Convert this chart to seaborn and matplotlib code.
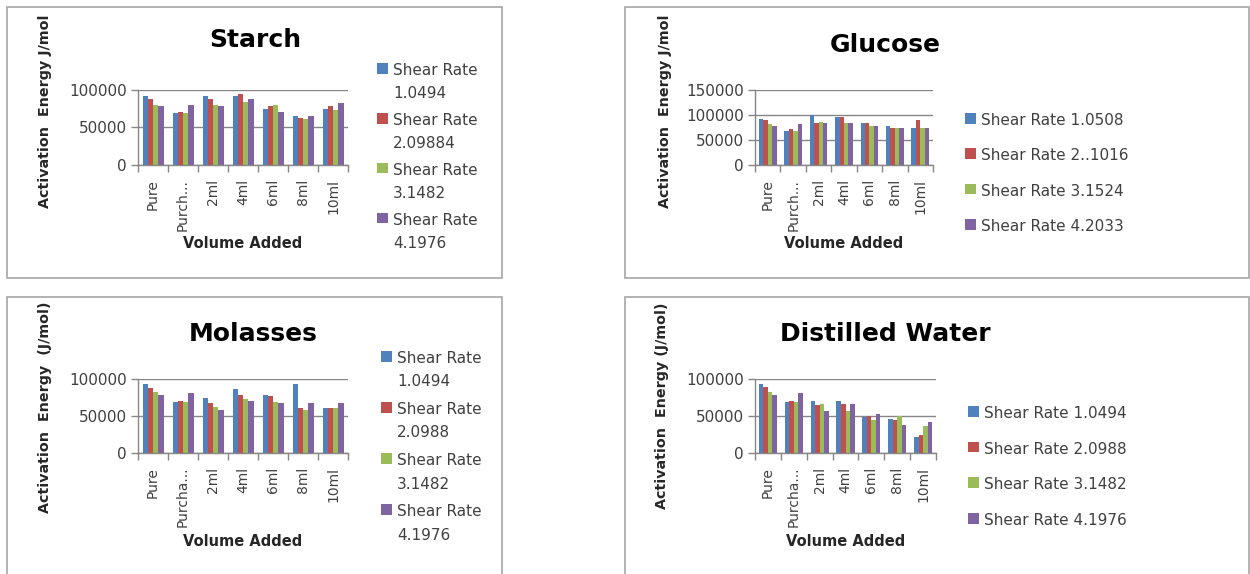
import numpy as np
import pandas as pd
import matplotlib
matplotlib.use("Agg")
import matplotlib.pyplot as plt
from matplotlib.patches import Rectangle
import seaborn as sns

# ---- data -------------------------------------------------------------
cats_short = ["Pure", "Purch...", "2ml", "4ml", "6ml", "8ml", "10ml"]
cats_long = ["Pure", "Purcha...", "2ml", "4ml", "6ml", "8ml", "10ml"]

starch_labels = ["Shear Rate\n1.0494", "Shear Rate\n2.09884",
                 "Shear Rate\n3.1482", "Shear Rate\n4.1976"]
starch_sr1 = [92500, 69200, 92500, 92500, 74400, 65200, 74400]
starch_sr2 = [88100, 70900, 88100, 94300, 78900, 62600, 78900]
starch_sr3 = [80600, 69200, 80600, 84600, 80600, 60800, 72700]
starch_sr4 = [78900, 80600, 78900, 88100, 70500, 65200, 82400]

glucose_labels = ["Shear Rate 1.0508", "Shear Rate 2..1016",
                  "Shear Rate 3.1524", "Shear Rate 4.2033"]
glucose_sr1 = [92700, 68700, 100000, 95400, 83400, 77400, 74700]
glucose_sr2 = [89400, 72000, 83400, 95400, 83400, 74700, 89400]
glucose_sr3 = [81400, 68700, 86700, 83400, 77400, 74700, 74700]
glucose_sr4 = [77400, 81400, 83400, 83400, 77400, 74700, 74700]

molasses_labels = ["Shear Rate\n1.0494", "Shear Rate\n2.0988",
                   "Shear Rate\n3.1482", "Shear Rate\n4.1976"]
molasses_sr1 = [92800, 68300, 74700, 86400, 78700, 92800, 60200]
molasses_sr2 = [88200, 70600, 67000, 78700, 76500, 60200, 60200]
molasses_sr3 = [82400, 68300, 62400, 72400, 68300, 58400, 60200]
molasses_sr4 = [78700, 80500, 58400, 70600, 67000, 67000, 67000]

water_labels = ["Shear Rate 1.0494", "Shear Rate 2.0988",
                "Shear Rate 3.1482", "Shear Rate 4.1976"]
water_sr1 = [92800, 68300, 70600, 70600, 48900, 46200, 22200]
water_sr2 = [88700, 70600, 64300, 66500, 50200, 44300, 24400]
water_sr3 = [82400, 68300, 66500, 56100, 44300, 50200, 36200]
water_sr4 = [78700, 80500, 56100, 66500, 52500, 38500, 42500]

# ---- style ------------------------------------------------------------
sns.set_theme(style="white")
plt.rcParams["font.family"] = ["DejaVu Sans"]

palette = ["#4F81BD", "#C0504D", "#9BBB59", "#8064A2"]
GRID = "#868686"
TXT = "#404040"

W, H = 1250, 574
fig = plt.figure(figsize=(W / 100, H / 100), dpi=100)


def axes_px(x0, y0, x1, y1):
    return fig.add_axes([x0 / W, 1 - y1 / H, (x1 - x0) / W, (y1 - y0) / H])


def frame_px(x0, y0, x1, y1):
    fig.add_artist(Rectangle((x0 / W, 1 - y1 / H), (x1 - x0) / W, (y1 - y0) / H,
                             transform=fig.transFigure, fill=False,
                             edgecolor="#A6A6A6", lw=1.2))


def panel(ax, cats, labels, series, title, title_xy, ylabel, ylabel_xy,
          xlabel_y, ymax, yticks, leg_xy, leg_spacing, leg_linespacing=1.2):
    df = pd.DataFrame({
        "Volume Added": cats * len(series),
        "series": np.repeat(labels, len(cats)),
        "value": np.concatenate(series),
    })
    sns.barplot(data=df, x="Volume Added", y="value", hue="series",
                order=cats, hue_order=labels, palette=palette,
                width=0.7, saturation=1, linewidth=0, gap=0,
                errorbar=None, ax=ax)
    handles = ax.get_legend().legend_handles
    ax.get_legend().remove()

    ax.set_xlim(-0.5, len(cats) - 0.5)
    ax.set_ylim(0, ymax)
    ax.set_yticks(yticks)
    ax.set_yticklabels([str(v) for v in yticks])
    ax.yaxis.grid(True, color=GRID, lw=1)
    ax.xaxis.grid(False)
    ax.set_axisbelow(True)
    for s in ("top", "right"):
        ax.spines[s].set_visible(False)
    for s in ("left", "bottom"):
        ax.spines[s].set_color(GRID)
        ax.spines[s].set_linewidth(1)

    ax.set_xticks(np.arange(-0.5, len(cats), 1), minor=True)
    ax.tick_params(axis="x", which="minor", length=5, width=1, color=GRID,
                   direction="out", bottom=True)
    ax.tick_params(axis="x", which="major", length=0, pad=10,
                   labelsize=10, labelcolor=TXT, labelrotation=90)
    ax.tick_params(axis="y", which="major", length=5, width=1, color=GRID,
                   direction="out", left=True, labelsize=11,
                   labelcolor=TXT, pad=3)

    ax.set_xlabel("Volume Added", fontsize=10.5, fontweight="bold",
                  color="#262626")
    ax.xaxis.set_label_coords(0.5, xlabel_y)
    ax.set_ylabel(ylabel, fontsize=10.3, fontweight="bold", color="#262626")
    ax.yaxis.label.set_va("center")
    ax.yaxis.set_label_coords(*ylabel_xy)

    ax.text(*title_xy, title, transform=ax.transAxes, ha="center",
            va="center", fontsize=18, fontweight="bold", color="black")

    leg = ax.legend(handles, labels, loc="upper left",
                    bbox_to_anchor=(leg_xy[0] / W, 1 - leg_xy[1] / H),
                    bbox_transform=fig.transFigure, frameon=False, fontsize=11,
                    labelcolor=TXT, handlelength=0.7, handleheight=0.7,
                    handletextpad=0.35, borderpad=0, borderaxespad=0,
                    labelspacing=leg_spacing)
    for t in leg.get_texts():
        t.set_linespacing(leg_linespacing)
    # keep each swatch level with the first line of its label
    for column in leg._legend_handle_box.get_children():
        for row in column.get_children():
            row.align = "top"


# panel frames
frame_px(7, 7, 502, 278)
frame_px(625, 7, 1249, 278)
frame_px(7, 297, 502, 590)
frame_px(625, 297, 1249, 590)

ax1 = axes_px(138, 90, 348, 165)
panel(ax1, cats_short, starch_labels,
      [starch_sr1, starch_sr2, starch_sr3, starch_sr4],
      "Starch", (0.557, 1.667), "Activation  Energy J/mol", (-0.443, 0.72),
      -0.95, 100000, [0, 50000, 100000], (377, 63), 0.75, 1.7)

ax2 = axes_px(755, 90, 933, 165)
panel(ax2, cats_short, glucose_labels,
      [glucose_sr1, glucose_sr2, glucose_sr3, glucose_sr4],
      "Glucose", (0.73, 1.6), "Activation  Energy J/mol", (-0.506, 0.72),
      -0.95, 150000, [0, 50000, 100000, 150000], (965, 113), 1.33)

ax3 = axes_px(138, 379, 348, 453)
panel(ax3, cats_long, molasses_labels,
      [molasses_sr1, molasses_sr2, molasses_sr3, molasses_sr4],
      "Molasses", (0.548, 1.608), "Activation  Energy  (J/mol)", (-0.443, 0.62),
      -1.1, 100000, [0, 50000, 100000], (381, 351), 0.83, 1.7)

ax4 = axes_px(755, 379, 936, 453)
panel(ax4, cats_long, water_labels,
      [water_sr1, water_sr2, water_sr3, water_sr4],
      "Distilled Water", (0.718, 1.608), "Activation  Energy (J/mol)",
      (-0.514, 0.635),
      -1.1, 100000, [0, 50000, 100000], (968, 406), 1.35)

fig.savefig("out.png", dpi=100)
